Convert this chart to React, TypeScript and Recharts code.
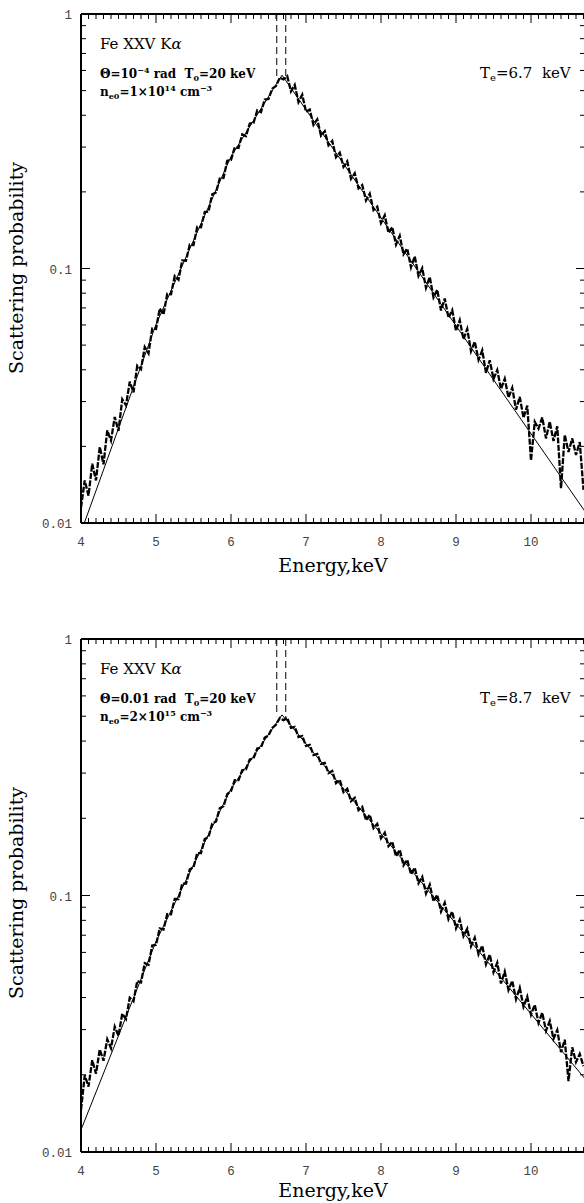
import { LineChart, Line, XAxis, YAxis } from 'recharts'

// energy channels (keV) shared by both simulated spectra
const energy = [
  4, 4.05, 4.1, 4.15, 4.2, 4.25, 4.3, 4.35, 4.4, 4.45, 4.5, 4.55, 4.6, 4.65, 4.7, 4.75, 4.8, 4.85, 4.9, 4.95,
  5, 5.05, 5.1, 5.15, 5.2, 5.25, 5.3, 5.35, 5.4, 5.45, 5.5, 5.55, 5.6, 5.65, 5.7, 5.75, 5.8, 5.85, 5.9, 5.95,
  6, 6.05, 6.1, 6.15, 6.2, 6.25, 6.3, 6.35, 6.4, 6.45, 6.5, 6.55, 6.6, 6.65, 6.7, 6.75, 6.8, 6.85, 6.9, 6.95,
  7, 7.05, 7.1, 7.15, 7.2, 7.25, 7.3, 7.35, 7.4, 7.45, 7.5, 7.55, 7.6, 7.65, 7.7, 7.75, 7.8, 7.85, 7.9, 7.95,
  8, 8.05, 8.1, 8.15, 8.2, 8.25, 8.3, 8.35, 8.4, 8.45, 8.5, 8.55, 8.6, 8.65, 8.7, 8.75, 8.8, 8.85, 8.9, 8.95,
  9, 9.05, 9.1, 9.15, 9.2, 9.25, 9.3, 9.35, 9.4, 9.45, 9.5, 9.55, 9.6, 9.65, 9.7, 9.75, 9.8, 9.85, 9.9, 9.95,
  10, 10.05, 10.1, 10.15, 10.2, 10.25, 10.3, 10.35, 10.4, 10.45, 10.5, 10.55, 10.6, 10.65, 10.7,
]

// Monte Carlo spectrum, Te = 6.7 keV
const probTop = [
  0.0115, 0.0147, 0.0128, 0.0171, 0.0147, 0.0199, 0.017, 0.0231, 0.0211, 0.0261, 0.023, 0.0306, 0.029, 0.0359, 0.0326, 0.0415, 0.0402, 0.0491, 0.0464, 0.0581,
  0.0579, 0.0696, 0.0659, 0.0795, 0.0792, 0.0934, 0.0903, 0.1076, 0.1073, 0.1241, 0.1236, 0.1458, 0.1453, 0.1666, 0.1674, 0.1957, 0.1989, 0.2256, 0.2268, 0.2652,
  0.2668, 0.2991, 0.2974, 0.3365, 0.3314, 0.3714, 0.3731, 0.4179, 0.4115, 0.4612, 0.4632, 0.509, 0.5214, 0.5616, 0.553, 0.5696, 0.4964, 0.5265, 0.4504, 0.482,
  0.4127, 0.4212, 0.3667, 0.3856, 0.3326, 0.3465, 0.3049, 0.3173, 0.2737, 0.2851, 0.2508, 0.2635, 0.2251, 0.2368, 0.2063, 0.2127, 0.1853, 0.1967, 0.1698, 0.175,
  0.1509, 0.1618, 0.1382, 0.1454, 0.1241, 0.1344, 0.1138, 0.1197, 0.1011, 0.1116, 0.0936, 0.1003, 0.084, 0.0926, 0.077, 0.0825, 0.0684, 0.0762, 0.064, 0.0686,
  0.0569, 0.0627, 0.0527, 0.0579, 0.0473, 0.0516, 0.0438, 0.0477, 0.0389, 0.0436, 0.0368, 0.0399, 0.0336, 0.0369, 0.0311, 0.034, 0.0279, 0.0313, 0.0259, 0.0289,
  0.0176, 0.025, 0.0235, 0.026, 0.0215, 0.025, 0.021, 0.024, 0.0137, 0.0222, 0.019, 0.0215, 0.0185, 0.0208, 0.0135,
]

// Monte Carlo spectrum, Te = 8.7 keV
const probBottom = [
  0.0146, 0.0199, 0.018, 0.0228, 0.0202, 0.0251, 0.0227, 0.0275, 0.0254, 0.0308, 0.0284, 0.0346, 0.033, 0.0399, 0.0387, 0.0464, 0.0458, 0.0545, 0.0537, 0.0638,
  0.0642, 0.0744, 0.0736, 0.0846, 0.0845, 0.097, 0.0969, 0.1113, 0.1112, 0.1264, 0.1288, 0.1463, 0.1462, 0.1662, 0.1693, 0.1907, 0.1942, 0.2187, 0.2228, 0.2483,
  0.2555, 0.2819, 0.2817, 0.3078, 0.3106, 0.3394, 0.3424, 0.3741, 0.3775, 0.4125, 0.4205, 0.4504, 0.4635, 0.4916, 0.4828, 0.4923, 0.4499, 0.4541, 0.4149, 0.4189,
  0.3828, 0.3864, 0.353, 0.3564, 0.3257, 0.3287, 0.3004, 0.3061, 0.2742, 0.2824, 0.2529, 0.2604, 0.2333, 0.2402, 0.2151, 0.2215, 0.1964, 0.2063, 0.183, 0.1903,
  0.1671, 0.1756, 0.1558, 0.1619, 0.1422, 0.1507, 0.1311, 0.1378, 0.121, 0.1283, 0.1116, 0.1183, 0.1018, 0.1101, 0.0949, 0.1006, 0.0866, 0.0937, 0.0807, 0.0865,
  0.0745, 0.0805, 0.0694, 0.0742, 0.0634, 0.0685, 0.059, 0.0637, 0.0539, 0.0588, 0.0502, 0.0547, 0.0454, 0.0505, 0.0428, 0.0465, 0.0394, 0.0437, 0.0368, 0.0403,
  0.0343, 0.0375, 0.0319, 0.0349, 0.0297, 0.0324, 0.0276, 0.0299, 0.0245, 0.0274, 0.0189, 0.0256, 0.0224, 0.0241, 0.0216,
]

// analytic profiles (solid lines)
const modelE = [4, 5, 6, 6.68, 10.72]
const modelTop = [0.0092, 0.0603, 0.2754, 0.575, 0.0111]
const modelBottom = [0.0122, 0.0662, 0.2607, 0.506, 0.0193]

// unscattered line positions (dashed verticals)
const lineE = [6.61, 6.73]
const lineEndTop = [0.55, 0.56]
const lineEndBottom = [0.5, 0.49]

const xMajor = [4, 5, 6, 7, 8, 9, 10]
const xTicks = Array.from({ length: 68 }, (_, i) => (40 + i) / 10)
const yTicks = [
  0.01, 0.02, 0.03, 0.04, 0.05, 0.06, 0.07, 0.08, 0.09,
  0.1, 0.2, 0.3, 0.4, 0.5, 0.6, 0.7, 0.8, 0.9, 1,
]
const yLabels: Record<string, string> = { '0.01': '0.01', '0.1': '0.1', '1': '1' }

const tickFont = 'Liberation Mono, DejaVu Sans Mono, monospace'
const serif = 'DejaVu Serif, serif'
const sp = '\u00a0'

const isMajorX = (v: number) => xMajor.some((m) => Math.abs(m - v) < 1e-6)
const isMajorY = (v: number) => String(v) in yLabels

function BottomTick({ x, y, payload }: any) {
  const major = isMajorX(payload.value)
  return (
    <g>
      <line x1={x} x2={x} y1={y} y2={y - (major ? 9 : 5)} stroke="#000" strokeWidth={1} />
      {major && (
        <text x={x} y={y + 23} textAnchor="middle" fontFamily={tickFont} fontSize={12.5} fill="#444">
          {payload.value}
        </text>
      )}
    </g>
  )
}

function TopTick({ x, y, payload }: any) {
  const major = isMajorX(payload.value)
  return <line x1={x} x2={x} y1={y} y2={y + (major ? 9 : 5)} stroke="#000" strokeWidth={1} />
}

function LeftTick({ x, y, payload }: any) {
  const major = isMajorY(payload.value)
  return (
    <g>
      <line x1={x} x2={x + (major ? 9 : 5)} y1={y} y2={y} stroke="#000" strokeWidth={1} />
      {major && (
        <text x={x - 9} y={y + 5} textAnchor="end" fontFamily={tickFont} fontSize={12.5} fill="#444">
          {yLabels[String(payload.value)]}
        </text>
      )}
    </g>
  )
}

function RightTick({ x, y, payload }: any) {
  const major = isMajorY(payload.value)
  return <line x1={x} x2={x - (major ? 9 : 5)} y1={y} y2={y} stroke="#000" strokeWidth={1} />
}

const frame = { stroke: '#000', strokeWidth: 2 }

function Panel({
  prob,
  model,
  lineEnd,
  height,
  margin,
}: {
  prob: number[]
  model: number[]
  lineEnd: number[]
  height: number
  margin: { top: number; right: number; bottom: number; left: number }
}) {
  const spectrum = energy.map((e, i) => ({ e, p: prob[i] }))
  const profile = modelE.map((e, i) => ({ e, p: model[i] }))
  const lines = lineE.map((e, i) => [
    { e, p: 1 },
    { e, p: lineEnd[i] },
  ])
  return (
    <LineChart width={600} height={height} margin={margin}>
      <XAxis
        xAxisId="b"
        type="number"
        dataKey="e"
        domain={[4, 10.72]}
        allowDataOverflow
        ticks={xTicks}
        interval={0}
        tick={(p: any) => <BottomTick {...p} />}
        tickLine={false}
        tickSize={0}
        tickMargin={0}
        height={1}
        axisLine={frame}
      />
      <XAxis
        xAxisId="t"
        orientation="top"
        type="number"
        dataKey="e"
        domain={[4, 10.72]}
        allowDataOverflow
        ticks={xTicks}
        interval={0}
        tick={(p: any) => <TopTick {...p} />}
        tickLine={false}
        tickSize={0}
        tickMargin={0}
        height={1}
        axisLine={frame}
      />
      <YAxis
        yAxisId="l"
        scale="log"
        domain={[0.01, 1]}
        allowDataOverflow
        ticks={yTicks}
        interval={0}
        tick={(p: any) => <LeftTick {...p} />}
        tickLine={false}
        tickSize={0}
        tickMargin={0}
        width={1}
        axisLine={frame}
      />
      <YAxis
        yAxisId="r"
        orientation="right"
        scale="log"
        domain={[0.01, 1]}
        allowDataOverflow
        ticks={yTicks}
        interval={0}
        tick={(p: any) => <RightTick {...p} />}
        tickLine={false}
        tickSize={0}
        tickMargin={0}
        width={1}
        axisLine={frame}
      />
      {lines.map((d, i) => (
        <Line
          key={i}
          xAxisId="b"
          yAxisId="l"
          data={d}
          dataKey="p"
          stroke="#000"
          strokeWidth={1}
          strokeDasharray="7 4"
          dot={false}
          isAnimationActive={false}
        />
      ))}
      <Line
        xAxisId="b"
        yAxisId="l"
        data={profile}
        dataKey="p"
        type="linear"
        stroke="#000"
        strokeWidth={1}
        dot={false}
        isAnimationActive={false}
      />
      <Line
        xAxisId="b"
        yAxisId="l"
        data={spectrum}
        dataKey="p"
        type="linear"
        stroke="#000"
        strokeWidth={2.3}
        strokeDasharray="6 1.5"
        dot={false}
        isAnimationActive={false}
      />
    </LineChart>
  )
}

function Notes({
  dy,
  theta,
  thetaSup,
  thetaRest,
  dens,
  densExp,
  te,
}: {
  dy: number
  theta: string
  thetaSup: string
  thetaRest: string
  dens: string
  densExp: string
  te: string
}) {
  return (
    <g>
      <text x={100} y={49 + dy} fontFamily={serif} fontSize={15}>
        Fe{sp}XXV{sp}K<tspan fontStyle="italic">α</tspan>
      </text>
      <text x={100} y={78 + dy} fontFamily={serif} fontSize={12} fontWeight="bold">
        {theta}
        {thetaSup && (
          <tspan dy={-5} fontSize={8}>
            {thetaSup}
          </tspan>
        )}
        <tspan dy={thetaSup ? 5 : 0}>{thetaRest + sp + sp + 'T'}</tspan>
        <tspan dy={3} fontSize={8}>0</tspan>
        <tspan dy={-3}>{'=20' + sp + 'keV'}</tspan>
      </text>
      <text x={100} y={96 + dy} fontFamily={serif} fontSize={12} fontWeight="bold">
        n<tspan dy={3} fontSize={8}>e0</tspan>
        <tspan dy={-3}>={dens}×10</tspan>
        <tspan dy={-5} fontSize={8}>{densExp}</tspan>
        <tspan dy={5}>{sp + 'cm'}</tspan>
        <tspan dy={-5} fontSize={8}>−3</tspan>
      </text>
      <text x={480} y={78 + dy} fontFamily={serif} fontSize={15}>
        T<tspan dy={3} fontSize={10}>e</tspan>
        <tspan dy={-3}>{'=' + te + sp + sp + 'keV'}</tspan>
      </text>
      <text
        x={23}
        y={268 + dy}
        transform={`rotate(-90 23 ${268 + dy})`}
        textAnchor="middle"
        fontFamily={serif}
        fontSize={19}
      >
        Scattering probability
      </text>
      <text x={333} y={572 + dy} textAnchor="middle" fontFamily={serif} fontSize={19}>
        Energy,keV
      </text>
    </g>
  )
}

export default function App() {
  return (
    <div style={{ position: 'absolute', left: 0, top: 0, width: 584, height: 1203, overflow: 'hidden', background: '#fff' }}>
      <div style={{ position: 'absolute', left: 0, top: 0 }}>
        <Panel prob={probTop} model={modelTop} lineEnd={lineEndTop} height={620} margin={{ top: 13, right: 14, bottom: 96, left: 80 }} />
      </div>
      <div style={{ position: 'absolute', left: 0, top: 620 }}>
        <Panel prob={probBottom} model={modelBottom} lineEnd={lineEndBottom} height={583} margin={{ top: 18, right: 14, bottom: 50, left: 80 }} />
      </div>
      <svg width={584} height={1203} style={{ position: 'absolute', left: 0, top: 0, pointerEvents: 'none' }}>
        <Notes dy={0} theta="Θ=10" thetaSup="−4" thetaRest=" rad" dens="1" densExp="14" te="6.7" />
        <Notes dy={625} theta="Θ=0.01 rad" thetaSup="" thetaRest="" dens="2" densExp="15" te="8.7" />
      </svg>
    </div>
  )
}
